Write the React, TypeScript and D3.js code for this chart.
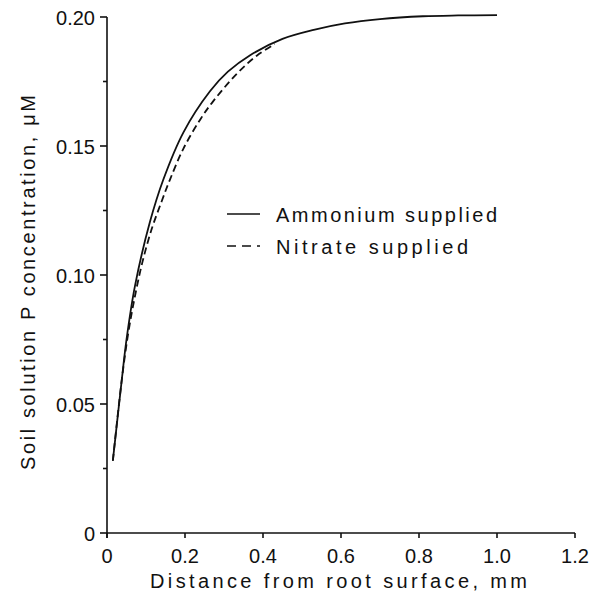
import React, { useEffect, useRef } from 'react';
import * as d3 from 'd3';

// distance from root surface (mm) and soil solution P (uM)
const ammoniumDist = [0.015, 0.038, 0.05, 0.072, 0.11, 0.144, 0.196, 0.264, 0.31, 0.367, 0.45, 0.53, 0.61, 0.7, 0.81, 0.9, 1.0];
const ammoniumP = [0.028, 0.0595, 0.075, 0.096, 0.1205, 0.1368, 0.1553, 0.1712, 0.1788, 0.1852, 0.1915, 0.195, 0.1975, 0.1992, 0.2003, 0.2006, 0.2007];

const nitrateDist = [0.015, 0.038, 0.054, 0.07, 0.09, 0.115, 0.14, 0.1615, 0.196, 0.24, 0.273, 0.333, 0.384, 0.43];
const nitrateP = [0.028, 0.0595, 0.077, 0.0905, 0.1045, 0.118, 0.1285, 0.137, 0.149, 0.1605, 0.1675, 0.178, 0.185, 0.1895];

const xTicks = [0, 0.2, 0.4, 0.6, 0.8, 1.0, 1.2];
const xTickLabels = ['0', '0.2', '0.4', '0.6', '0.8', '1.0', '1.2'];
const yTicks = [0, 0.05, 0.1, 0.15, 0.2];
const yTickLabels = ['0', '0.05', '0.10', '0.15', '0.20'];
const yMinorTicks = [0.025, 0.075, 0.125, 0.175];

const legendLabels = ['Ammonium supplied', 'Nitrate supplied'];

const App = () => {
    const svgRef = useRef<SVGSVGElement>(null);

    useEffect(() => {
        const width = 591;
        const height = 592;
        const left = 107;
        const right = 575;
        const top = 17;
        const bottom = 533;
        const font = "'Liberation Sans', Arial, sans-serif";

        const svg = d3.select(svgRef.current);
        svg.selectAll('*').remove();
        svg.attr('width', width).attr('height', height);

        const x = d3.scaleLinear().domain([0, 1.2]).range([left, right]);
        const y = d3.scaleLinear().domain([0, 0.2]).range([bottom, top]);

        // axes
        const g = svg.append('g').attr('stroke', '#111').attr('stroke-width', 1.6).attr('fill', 'none');
        g.append('line').attr('x1', left).attr('x2', left).attr('y1', top).attr('y2', bottom + 5);
        g.append('line').attr('x1', left).attr('x2', right).attr('y1', bottom).attr('y2', bottom);
        g.selectAll('.xt').data(xTicks).enter().append('line')
            .attr('x1', (d) => x(d)).attr('x2', (d) => x(d))
            .attr('y1', bottom).attr('y2', bottom + 5);
        g.selectAll('.yt').data(yTicks).enter().append('line')
            .attr('x1', left - 7).attr('x2', left)
            .attr('y1', (d) => y(d)).attr('y2', (d) => y(d));
        g.selectAll('.ym').data(yMinorTicks).enter().append('line')
            .attr('x1', left - 4).attr('x2', left)
            .attr('y1', (d) => y(d)).attr('y2', (d) => y(d));

        // tick labels
        svg.append('g').selectAll('text').data(xTicks).enter().append('text')
            .attr('x', (d) => x(d)).attr('y', 563)
            .attr('text-anchor', 'middle')
            .style('font-family', font).style('font-size', '20px').attr('fill', '#111')
            .text((d, i) => xTickLabels[i]);
        svg.append('g').selectAll('text').data(yTicks).enter().append('text')
            .attr('x', 95).attr('y', (d) => y(d) + 8)
            .attr('text-anchor', 'end')
            .style('font-family', font).style('font-size', '20px').attr('fill', '#111')
            .text((d, i) => yTickLabels[i]);

        // axis titles
        svg.append('text')
            .attr('x', 150).attr('y', 588)
            .attr('textLength', 377).attr('lengthAdjust', 'spacing')
            .style('font-family', font).style('font-size', '20px').attr('fill', '#111')
            .text('Distance from root surface, mm');
        svg.append('text')
            .attr('transform', 'translate(35,470) rotate(-90)')
            .attr('textLength', 375).attr('lengthAdjust', 'spacing')
            .style('font-family', font).style('font-size', '20px').attr('fill', '#111')
            .text('Soil solution P concentration, \u03bcM');

        // curves
        const ammonium = ammoniumDist.map((d, i) => [x(d), y(ammoniumP[i])] as [number, number]);
        const nitrate = nitrateDist.map((d, i) => [x(d), y(nitrateP[i])] as [number, number]);
        const path = d3.line().curve(d3.curveCatmullRom.alpha(0.5));

        svg.append('path')
            .attr('d', path(nitrate))
            .attr('fill', 'none').attr('stroke', '#111').attr('stroke-width', 1.8)
            .attr('stroke-dasharray', '7,4');
        svg.append('path')
            .attr('d', path(ammonium))
            .attr('fill', 'none').attr('stroke', '#111').attr('stroke-width', 1.8);

        // legend
        const lg = svg.append('g');
        lg.append('line').attr('x1', 227).attr('x2', 260).attr('y1', 214).attr('y2', 214)
            .attr('stroke', '#111').attr('stroke-width', 1.6);
        lg.append('line').attr('x1', 227).attr('x2', 260).attr('y1', 246).attr('y2', 246)
            .attr('stroke', '#111').attr('stroke-width', 1.6).attr('stroke-dasharray', '9,6');
        lg.append('text').attr('x', 276).attr('y', 222)
            .attr('textLength', 221).attr('lengthAdjust', 'spacing')
            .style('font-family', font).style('font-size', '20px').attr('fill', '#111')
            .text(legendLabels[0]);
        lg.append('text').attr('x', 276).attr('y', 254)
            .attr('textLength', 192).attr('lengthAdjust', 'spacing')
            .style('font-family', font).style('font-size', '20px').attr('fill', '#111')
            .text(legendLabels[1]);
    }, []);

    return (
        <div>
            <svg ref={svgRef} style={{ position: 'absolute', left: 0, top: 0, background: '#fff' }}></svg>
        </div>
    );
};

export default App;
